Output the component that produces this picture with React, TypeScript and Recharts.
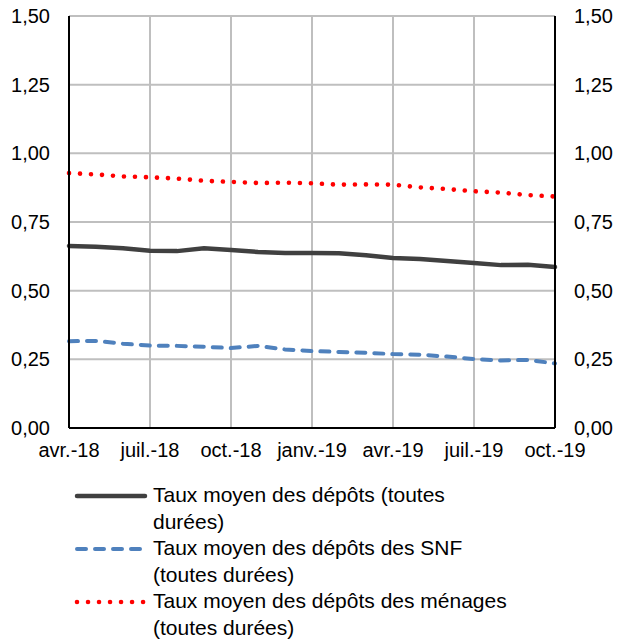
import { LineChart, Line, XAxis, YAxis, CartesianGrid } from "recharts";

// Mois (avr.-18 -> oct.-19)
const months = [
  "avr.-18", "mai-18", "juin-18", "juil.-18", "août-18", "sept.-18",
  "oct.-18", "nov.-18", "déc.-18", "janv.-19", "févr.-19", "mars-19",
  "avr.-19", "mai-19", "juin-19", "juil.-19", "août-19", "sept.-19", "oct.-19",
];

const tauxGlobal = [
  0.663, 0.66, 0.654, 0.645, 0.644, 0.654, 0.648, 0.641, 0.637, 0.637,
  0.636, 0.629, 0.619, 0.615, 0.608, 0.601, 0.593, 0.594, 0.586,
];
const tauxSnf = [
  0.316, 0.317, 0.307, 0.3, 0.299, 0.296, 0.291, 0.299, 0.286, 0.28,
  0.277, 0.274, 0.269, 0.267, 0.26, 0.251, 0.246, 0.248, 0.235,
];
const tauxMenages = [
  0.928, 0.923, 0.916, 0.913, 0.908, 0.9, 0.896, 0.892, 0.893, 0.891,
  0.886, 0.887, 0.886, 0.876, 0.87, 0.862, 0.857, 0.848, 0.843,
];

const yTicks = [0, 0.25, 0.5, 0.75, 1, 1.25, 1.5];

const labelGlobal = ["Taux moyen des dépôts (toutes", "durées)"];
const labelSnf = ["Taux moyen des dépôts des SNF", "(toutes durées)"];
const labelMenages = ["Taux moyen des dépôts des ménages", "(toutes durées)"];

const FONT = '"Liberation Sans", Arial, sans-serif';

const data = months.map((m, i) => ({
  month: m,
  global: tauxGlobal[i],
  snf: tauxSnf[i],
  menages: tauxMenages[i],
}));

// même échelle à gauche et à droite, le dernier trait est rattaché à l'axe droit
const series = [
  { key: "global", axis: "left", label: labelGlobal, color: "#404040", width: 4.5, dash: undefined },
  { key: "snf", axis: "left", label: labelSnf, color: "#4f81bd", width: 4, dash: "9 9" },
  { key: "menages", axis: "right", label: labelMenages, color: "#ff0000", width: 4.6, dash: "0.01 11" },
];

const fmt = (v: number) => v.toFixed(2).replace(".", ",");

export default function App() {
  const tick = { fill: "#000", fontSize: 20, fontFamily: FONT };
  const axisLine = { stroke: "#000", strokeWidth: 2 };

  return (
    <div style={{ position: "absolute", left: 0, top: 0, width: 617, height: 643, background: "#fff" }}>
      <LineChart
        width={617}
        height={470}
        data={data}
        margin={{ top: 16, right: 2, bottom: 2, left: 9 }}
      >
        <CartesianGrid yAxisId="left" stroke="#bfbfbf" strokeWidth={2} />
        <XAxis
          dataKey="month"
          interval={2}
          tick={tick}
          tickSize={0}
          tickMargin={15}
          height={40}
          axisLine={axisLine}
          tickLine={false}
        />
        <YAxis
          yAxisId="left"
          domain={[0, 1.5]}
          ticks={yTicks}
          tickFormatter={fmt}
          width={60}
          tick={tick}
          tickSize={0}
          tickMargin={19}
          axisLine={axisLine}
          tickLine={false}
        />
        <YAxis
          yAxisId="right"
          orientation="right"
          domain={[0, 1.5]}
          ticks={yTicks}
          tickFormatter={fmt}
          width={60}
          tick={tick}
          tickSize={0}
          tickMargin={19}
          axisLine={axisLine}
          tickLine={false}
        />
        {series.map((s) => (
          <Line
            key={s.key}
            yAxisId={s.axis}
            type="linear"
            dataKey={s.key}
            stroke={s.color}
            strokeWidth={s.width}
            strokeDasharray={s.dash}
            strokeLinecap="round"
            dot={false}
            activeDot={false}
            isAnimationActive={false}
          />
        ))}
      </LineChart>

      {/* légende */}
      <div style={{ position: "absolute", left: 0, top: 482, fontFamily: FONT, fontSize: 21, lineHeight: "26.5px", color: "#000" }}>
        {series.map((s) => (
          <div key={s.key} style={{ position: "relative", paddingLeft: 153 }}>
            <svg width={80} height={20} style={{ position: "absolute", left: 70, top: 3 }}>
              <line
                x1={7}
                x2={75}
                y1={11}
                y2={11}
                stroke={s.color}
                strokeWidth={s.width}
                strokeDasharray={s.dash}
                strokeLinecap="round"
              />
            </svg>
            {s.label.map((l, i) => (
              <div key={i} style={{ whiteSpace: "nowrap" }}>{l}</div>
            ))}
          </div>
        ))}
      </div>
    </div>
  );
}
